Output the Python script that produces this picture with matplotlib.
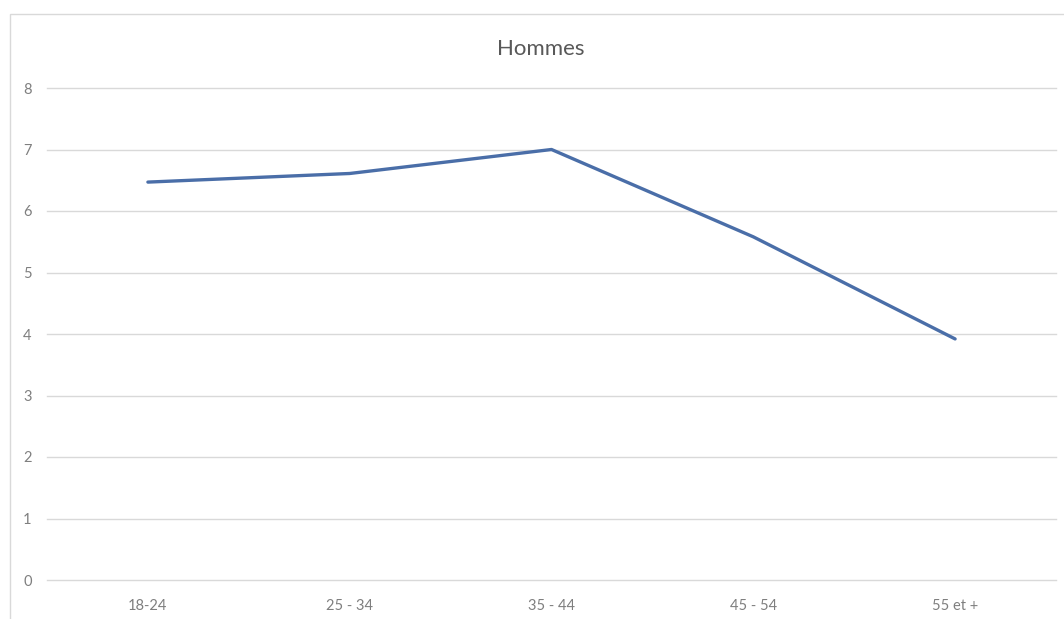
import matplotlib.pyplot as plt
from matplotlib.patches import Rectangle

# data
categories = ["18-24", "25 - 34", "35 - 44", "45 - 54", "55 et +"]
hommes = [6.47, 6.61, 7.0, 5.58, 3.92]
y_ticks = [0, 1, 2, 3, 4, 5, 6, 7, 8]

plt.rcParams['font.family'] = ['Lato', 'DejaVu Sans']

W, H = 1064, 619
fig = plt.figure(figsize=(W / 100, H / 100), dpi=100)
fig.patch.set_facecolor("white")

# chart-area border (runs off the right and bottom edges)
fig.patches.append(Rectangle((10 / W, -0.05), 1.1, (H - 14) / H + 0.05,
                             transform=fig.transFigure, fill=False,
                             edgecolor="#d9d9d9", linewidth=1.0))

ax = fig.add_axes([47 / W, 39 / H, (1056 - 47) / W, (580 - 88) / H])
x = range(len(categories))
ax.plot(x, hommes, color="#4a6ea8", linewidth=2.4, solid_capstyle="round")

ax.set_xlim(-0.5, len(categories) - 0.5)
ax.set_ylim(0, 8)
ax.set_yticks(y_ticks)
ax.set_xticks(list(x))
ax.set_xticklabels(categories)
ax.grid(axis="y", color="#d9d9d9", linewidth=1.0)
for gl in ax.get_ygridlines():
    gl.set_clip_on(False)
ax.set_axisbelow(True)
for s in ax.spines.values():
    s.set_visible(False)
ax.tick_params(axis="both", length=0, colors="#7f7f7f", labelsize=10.5)
ax.tick_params(axis="y", pad=11)
ax.tick_params(axis="x", pad=14)

fig.text(541 / W, 1 - 49 / H, "Hommes", ha="center", va="center",
         fontsize=16, color="#595959")

fig.savefig("out.png", dpi=100)
